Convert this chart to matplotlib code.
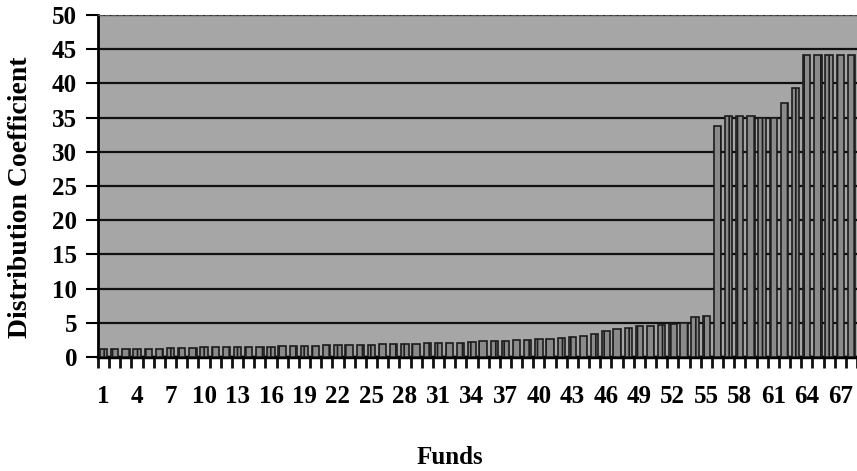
import numpy as np
import matplotlib
matplotlib.use("Agg")
import matplotlib.pyplot as plt

# fund numbers 1..68 and the distribution coefficient
funds = list(range(1, 69))
coef = [1.1, 1.1, 1.1, 1.2, 1.2, 1.2, 1.3, 1.3,
        1.3, 1.4, 1.4, 1.5, 1.5, 1.5, 1.5, 1.5,
        1.6, 1.6, 1.6, 1.6, 1.7, 1.8, 1.8, 1.8,
        1.8, 1.9, 1.9, 1.9, 1.9, 2.0, 2.0, 2.1,
        2.1, 2.2, 2.3, 2.3, 2.4, 2.5, 2.5, 2.6,
        2.7, 2.8, 2.9, 3.0, 3.4, 3.8, 4.1, 4.3,
        4.5, 4.6, 4.7, 4.8, 5.0, 5.8, 6.0,
        33.8, 35.2, 35.2, 35.2, 35.0, 35.0, 37.1, 39.3,
        44.1, 44.1, 44.1, 44.1, 44.1]
tick_funds = funds[::3]
y_ticks = list(range(0, 51, 5))

plt.rcParams['font.family'] = ['Liberation Serif', 'DejaVu Serif']
plt.rcParams['font.weight'] = 'bold'
plt.rcParams['hatch.color'] = '#333333'
plt.rcParams['hatch.linewidth'] = 1.2

W, H = 857, 471
fig = plt.figure(figsize=(W / 100, H / 100), dpi=100)
ax = fig.add_axes([98 / W, 1 - 357 / H, 1 - 98 / W, (357 - 15) / H])
ax.set_facecolor('#a6a6a6')

ax.bar(funds, coef, width=0.66, color='#8a8a8a', edgecolor='#1c1c1c',
       linewidth=1.2, hatch='||', zorder=3)

ax.set_xlim(0.5, 68.25)
ax.set_ylim(0, 50)
ax.set_yticks(y_ticks)
ax.yaxis.grid(True, color='#111111', linewidth=1.6, zorder=1)
ax.set_axisbelow(True)

# category ticks sit between bars, labels every third fund
ax.set_xticks(np.arange(0.5, 69, 1.0))
ax.set_xticklabels([])
ax.set_xticks(tick_funds, minor=True)
ax.set_xticklabels([str(f) for f in tick_funds], minor=True, fontsize=18)
ax.tick_params(axis='x', which='major', direction='out', length=8, width=2, color='#111111')
ax.tick_params(axis='x', which='minor', length=0, pad=20)
ax.tick_params(axis='y', direction='out', length=9, width=1.5, labelsize=18, pad=6)

ax.spines['right'].set_visible(False)
ax.spines['top'].set_color('#555555')
ax.spines['top'].set_linestyle((0, (4, 2)))
ax.spines['left'].set_linewidth(2)
ax.spines['bottom'].set_linewidth(2.5)

fig.text(21 / W, 1 - 197 / H, "Distribution Coefficient", fontsize=20,
         fontweight='bold', rotation=90, ha='center', va='center')
fig.text(450 / W, 1 - 458 / H, "Funds", fontsize=18, fontweight='bold',
         ha='center', va='center')

plt.savefig("out.png", dpi=100)
